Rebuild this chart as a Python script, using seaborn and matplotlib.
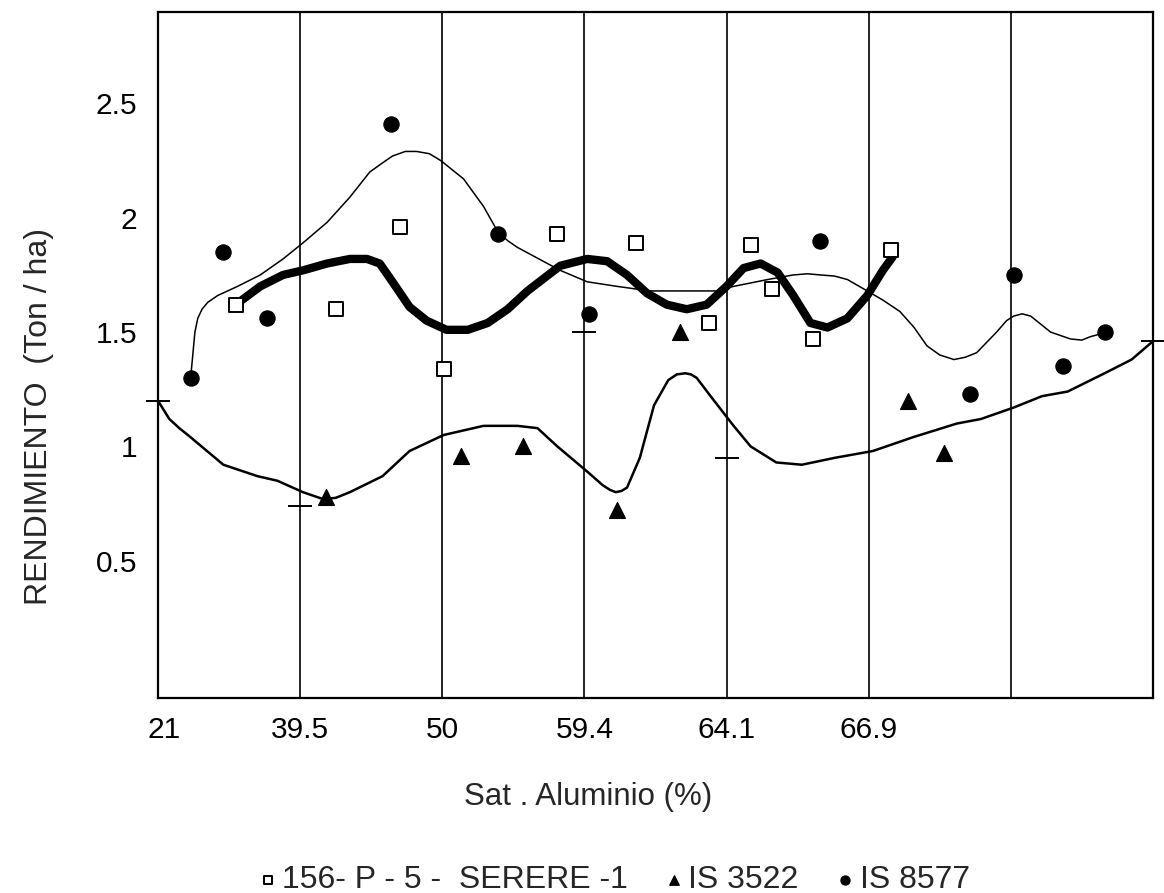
# Rendimiento vs saturacion de aluminio - tres genotipos de sorgo
import numpy as np
import pandas as pd
import matplotlib
matplotlib.use('Agg')
import matplotlib.pyplot as plt
import matplotlib.transforms as mtransforms
import seaborn as sns

# 1. Datos (posicion sobre el eje categorico 0..7, rendimiento en Ton/ha)
etiquetas_x = ['21', '39.5', '50', '59.4', '64.1', '66.9']
ticks_y = [0.5, 1, 1.5, 2, 2.5]
etiquetas_y = ['0.5', '1', '1.5', '2', '2.5']

# 156- P - 5 - SERERE -1 (cuadros)
serere_x = [0.55, 1.25, 1.70, 2.01, 2.81, 3.36, 3.88, 4.17, 4.32, 4.61, 5.16]
serere_y = [1.62, 1.60, 1.96, 1.34, 1.93, 1.89, 1.54, 1.88, 1.69, 1.47, 1.86]

# IS 3522 (triangulos)
is3522_x = [1.18, 2.13, 2.57, 3.23, 3.67, 5.28, 5.53]
is3522_y = [0.78, 0.96, 1.00, 0.72, 1.50, 1.20, 0.97]

# IS 8577 (circulos)
is8577_x = [0.23, 0.46, 0.77, 1.64, 2.39, 3.03, 4.66, 5.71, 6.02, 6.37, 6.66]
is8577_y = [1.30, 1.85, 1.56, 2.41, 1.93, 1.58, 1.90, 1.23, 1.75, 1.35, 1.50]

# marcas horizontales sobre la curva inferior
marcas_x = [0, 1, 3, 4, 7]
marcas_y = [1.20, 0.74, 1.50, 0.95, 1.46]

# curva fina (tendencia IS 8577)
fina_x = [0.23, 0.245, 0.26, 0.28, 0.31, 0.35, 0.42, 0.56, 0.72, 0.88, 1.02, 1.19,
          1.35, 1.49, 1.58, 1.65, 1.74, 1.82, 1.91, 1.99, 2.07, 2.15, 2.29, 2.39,
          2.46, 2.53, 2.62, 2.83, 3.02, 3.23, 3.46, 3.70, 3.93, 4.05, 4.29, 4.47,
          4.57, 4.66, 4.76, 4.85, 4.99, 5.10, 5.22, 5.32, 5.41, 5.50, 5.60, 5.68,
          5.76, 5.90, 5.97, 6.02, 6.08, 6.14, 6.28, 6.42, 6.50, 6.56, 6.62, 6.66]
fina_y = [1.30, 1.40, 1.50, 1.56, 1.60, 1.63, 1.66, 1.70, 1.75, 1.82, 1.89, 1.98,
          2.09, 2.20, 2.24, 2.27, 2.29, 2.29, 2.28, 2.25, 2.21, 2.17, 2.05, 1.94,
          1.90, 1.87, 1.84, 1.77, 1.72, 1.70, 1.68, 1.68, 1.68, 1.70, 1.73, 1.75,
          1.755, 1.75, 1.745, 1.73, 1.68, 1.64, 1.59, 1.52, 1.44, 1.40, 1.38, 1.39,
          1.41, 1.50, 1.55, 1.57, 1.58, 1.57, 1.50, 1.47, 1.465, 1.48, 1.49, 1.50]

# curva gruesa (tendencia 156- P - 5 - SERERE -1)
gruesa_x = [0.59, 0.72, 0.88, 1.02, 1.19, 1.35, 1.47, 1.56, 1.65, 1.77, 1.89, 2.03,
            2.18, 2.32, 2.46, 2.60, 2.83, 3.02, 3.16, 3.30, 3.44, 3.58, 3.72, 3.86,
            4.00, 4.12, 4.24, 4.36, 4.47, 4.59, 4.71, 4.85, 4.99, 5.10, 5.17]
gruesa_y = [1.64, 1.70, 1.75, 1.77, 1.80, 1.82, 1.82, 1.80, 1.72, 1.61, 1.55, 1.51,
            1.51, 1.54, 1.60, 1.68, 1.79, 1.82, 1.81, 1.75, 1.67, 1.62, 1.60, 1.62,
            1.70, 1.78, 1.80, 1.76, 1.66, 1.54, 1.52, 1.56, 1.66, 1.77, 1.83]

# curva media (tendencia IS 3522)
media_x = [0.00, 0.04, 0.08, 0.15, 0.23, 0.46, 0.70, 0.84, 1.02, 1.16, 1.25, 1.35,
           1.58, 1.77, 2.01, 2.29, 2.53, 2.67, 2.81, 3.02, 3.13, 3.18, 3.22, 3.26,
           3.30, 3.39, 3.49, 3.59, 3.65, 3.71, 3.75, 3.79, 3.90, 4.05, 4.17, 4.35,
           4.53, 4.76, 5.03, 5.31, 5.62, 5.79, 6.02, 6.22, 6.40, 6.66, 6.85, 7.00]
media_y = [1.20, 1.16, 1.12, 1.08, 1.04, 0.92, 0.87, 0.85, 0.80, 0.77, 0.775, 0.80,
           0.87, 0.98, 1.05, 1.09, 1.09, 1.08, 1.00, 0.89, 0.83, 0.81, 0.80, 0.805,
           0.82, 0.95, 1.18, 1.29, 1.315, 1.32, 1.315, 1.30, 1.21, 1.09, 1.00, 0.93,
           0.92, 0.95, 0.98, 1.04, 1.10, 1.12, 1.17, 1.22, 1.24, 1.32, 1.38, 1.46]

# 2. Figura
sns.set_style('white')
plt.rcParams['font.family'] = ['Liberation Sans', 'DejaVu Sans']

fig = plt.figure(figsize=(11.64, 8.93), dpi=100)
ax = fig.add_axes([0.1357, 0.2184, 0.8548, 0.7682])

# lineas verticales de la rejilla
for xg in range(1, 7):
    ax.axvline(xg, color='black', lw=1.2, zorder=1)

# curvas de tendencia
sns.lineplot(x=fina_x, y=fina_y, sort=False, estimator=None, color='black', lw=1.1, ax=ax,
             solid_joinstyle='round')
sns.lineplot(x=gruesa_x, y=gruesa_y, sort=False, estimator=None, color='black', lw=6, ax=ax,
             solid_capstyle='round', solid_joinstyle='round')
sns.lineplot(x=media_x, y=media_y, sort=False, estimator=None, color='black', lw=1.8, ax=ax,
             solid_joinstyle='round')

# puntos
sns.scatterplot(x=serere_x, y=serere_y, marker='s', s=90, facecolor='white',
                edgecolor='black', linewidth=1.4, label='156- P - 5 -  SERERE -1', ax=ax, zorder=5)
sns.scatterplot(x=is3522_x, y=is3522_y, marker='^', s=130, color='black',
                edgecolor='black', label='IS 3522', ax=ax, zorder=5)
sns.scatterplot(x=is8577_x, y=is8577_y, marker='o', s=120, color='black',
                edgecolor='black', label='IS 8577', ax=ax, zorder=5)
sns.scatterplot(x=marcas_x, y=marcas_y, marker='_', s=300, color='black',
                linewidth=1.4, ax=ax, zorder=5, clip_on=False)

# 3. Ejes
ax.set_xlim(0, 7)
ax.set_ylim(-0.1, 2.9)
ax.set_xticks(range(len(etiquetas_x)))
ax.set_xticklabels(etiquetas_x)
ax.set_yticks(ticks_y)
ax.set_yticklabels(etiquetas_y)
ax.tick_params(axis='both', length=0, labelsize=21.5, colors='black')
ax.tick_params(axis='x', pad=13)
ax.tick_params(axis='y', pad=15)
for sp in ax.spines.values():
    sp.set_color('black')
    sp.set_linewidth(1.6)

# el "21" va un poco a la derecha del borde
lab21 = ax.get_xticklabels()[0]
lab21.set_transform(lab21.get_transform() + mtransforms.ScaledTranslation(6 / 100, 0, fig.dpi_scale_trans))

ax.set_xlabel('Sat . Aluminio (%)', fontsize=22.5)
ax.set_ylabel('RENDIMIENTO  (Ton / ha)', fontsize=23)
ax.xaxis.set_label_coords(0.432, -0.122)
ax.yaxis.set_label_coords(-0.104, 0.41)

# leyenda abajo
handles, labels = ax.get_legend_handles_labels()
ax.get_legend().remove()
fig.legend(handles, labels, loc='center', bbox_to_anchor=(0.528, 0.0146), ncol=3,
           frameon=False, fontsize=23, markerscale=0.6, handletextpad=0.2,
           columnspacing=1.2, handlelength=0.5)

fig.savefig('out.png', dpi=100)
